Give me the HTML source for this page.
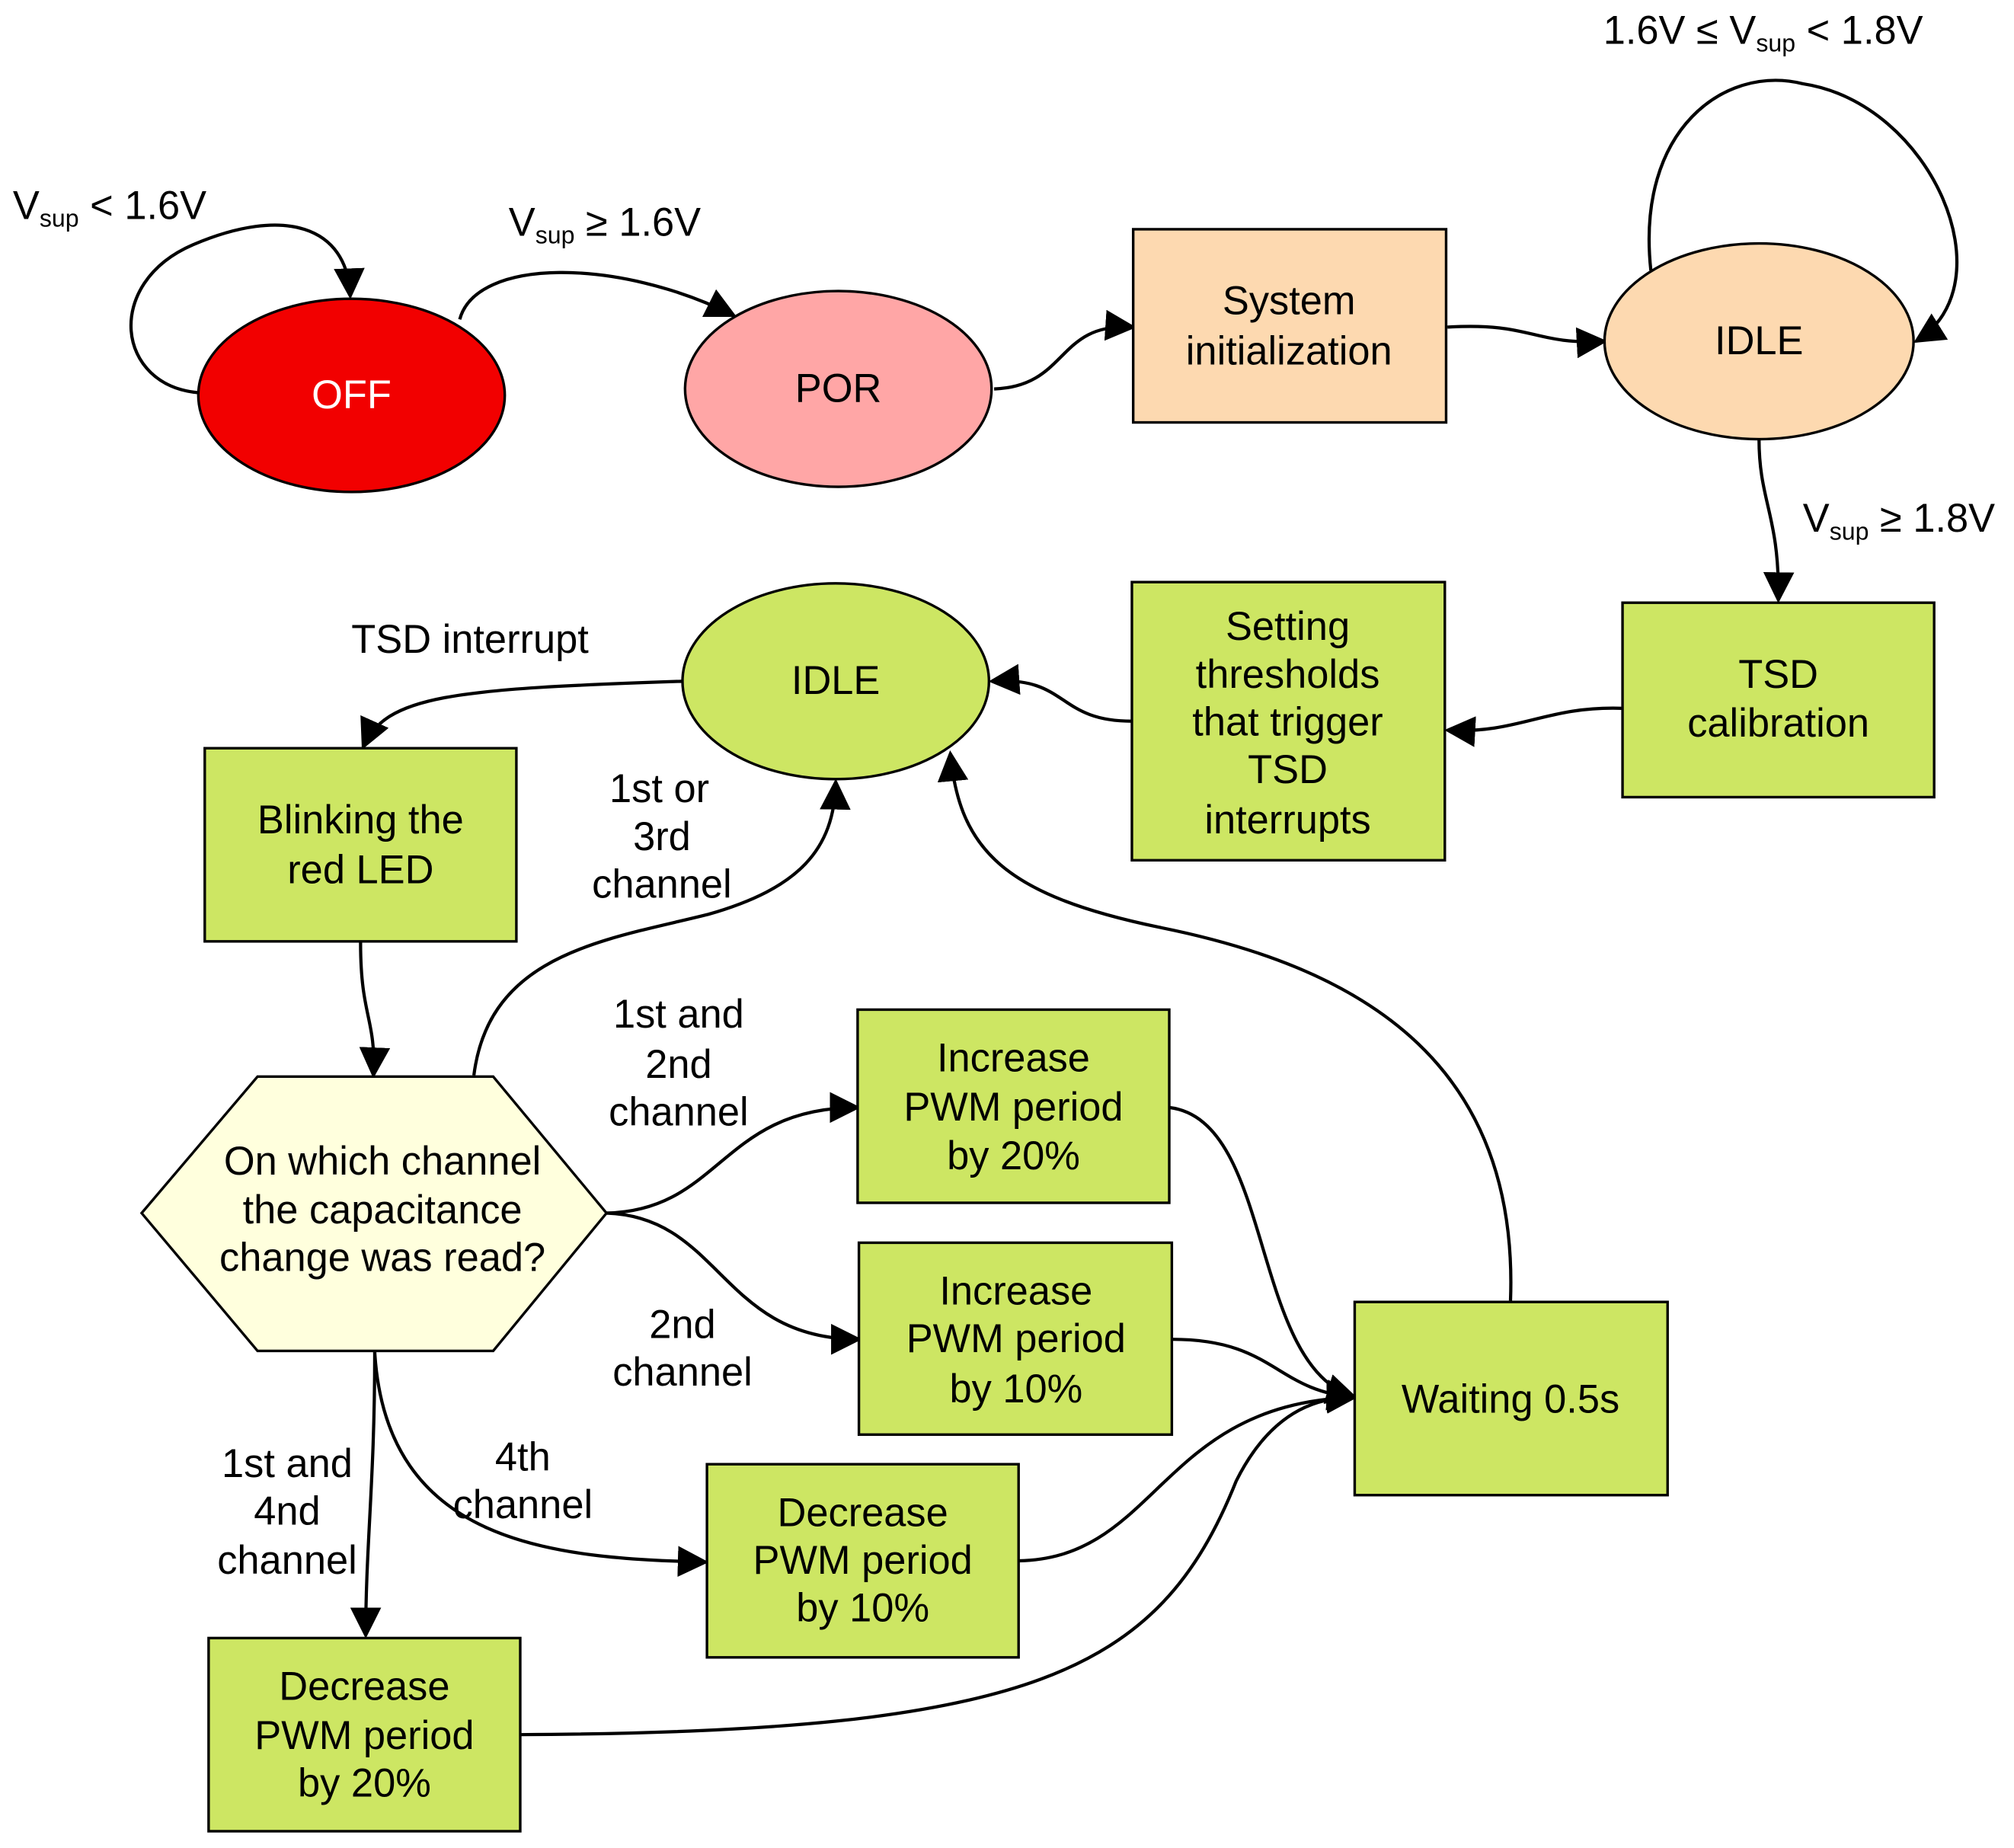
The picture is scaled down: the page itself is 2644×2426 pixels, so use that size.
<!DOCTYPE html>
<html><head><meta charset="utf-8"><style>
html,body{margin:0;padding:0;background:#fff;}
svg{display:block;}
text{font-family:"Liberation Sans",Arial,sans-serif;font-size:31px;fill:#000;}
</style></head><body>
<svg width="2644" height="2426" viewBox="0 0 1564 1435" xmlns="http://www.w3.org/2000/svg">
<defs>
<marker id="a" viewBox="0 0 10 10" refX="9" refY="5" markerWidth="7" markerHeight="7" markerUnits="userSpaceOnUse" orient="auto">
<path d="M0,0 L10,5 L0,10 z" fill="#000"/></marker>
</defs>
<style>.l{fill:none;stroke:#000;stroke-width:2.5;marker-end:url(#a)} .b{stroke:#000;stroke-width:2}
marker path{}
</style>
<defs><marker id="m" viewBox="0 0 10 10" refX="9" refY="5" markerWidth="24" markerHeight="24" markerUnits="userSpaceOnUse" orient="auto"><path d="M0,0 L10,5 L0,10 z" fill="#000"/></marker></defs>
<g fill="none" stroke="#000" stroke-width="2.5" marker-end="url(#m)">
<path d="M155,305 C90,300 80,220 150,190 C220,160 270,175 272,230"/>
<path d="M357,248 C370,200 480,200 570,245"/>
<path d="M772,302 C830,300 820,250 880,254"/>
<path d="M1124,254 C1190,250 1190,268 1246,265"/>
<path d="M1282,210 C1270,100 1340,50 1400,65 C1500,80 1560,220 1488,265"/>
<path d="M1366,341 C1366,390 1382,400 1381,466"/>
<path d="M1260,550 C1200,548 1180,570 1124,567"/>
<path d="M879,560 C820,560 830,525 770,529"/>
<path d="M530,529 C350,535 300,540 282,580"/>
<path d="M280,732 C280,790 292,790 290,835"/>
<path d="M368,835 C380,740 470,730 550,710 C620,690 648,660 649,607"/>
<path d="M1173,1010 C1180,820 1050,750 900,720 C780,695 745,660 738,585"/>
<path d="M471,942 C560,940 560,860 666,860"/>
<path d="M471,942 C560,945 560,1040 667,1040"/>
<path d="M291,1050 C291,1150 284,1200 284,1270"/>
<path d="M291,1050 C300,1200 430,1210 548,1213"/>
<path d="M908,860 C990,870 970,1060 1052,1085"/>
<path d="M910,1040 C990,1040 990,1080 1052,1085"/>
<path d="M791,1212 C900,1210 900,1090 1052,1085"/>
<path d="M404,1347 C800,1345 900,1300 960,1150 C990,1090 1030,1085 1052,1085"/>
</g>
<g stroke="#000" stroke-width="2">
<ellipse cx="273" cy="307" rx="119" ry="75" fill="#f20000"/>
<ellipse cx="651" cy="302" rx="119" ry="76" fill="#ffa6a6"/>
<rect x="880" y="178" width="243" height="150" fill="#fdd9b0"/>
<ellipse cx="1366" cy="265" rx="120" ry="76" fill="#fdd9b0"/>
<rect x="1260" y="468" width="242" height="151" fill="#cde663"/>
<rect x="879" y="452" width="243" height="216" fill="#cde663"/>
<ellipse cx="649" cy="529" rx="119" ry="76" fill="#cde663"/>
<rect x="159" y="581" width="242" height="150" fill="#cde663"/>
<polygon points="110,942 200,836 383,836 471,942 383,1049 200,1049" fill="#ffffdd"/>
<rect x="666" y="784" width="242" height="150" fill="#cde663"/>
<rect x="667" y="965" width="243" height="149" fill="#cde663"/>
<rect x="1052" y="1011" width="243" height="150" fill="#cde663"/>
<rect x="549" y="1137" width="242" height="150" fill="#cde663"/>
<rect x="162" y="1272" width="242" height="150" fill="#cde663"/>
</g>
<g text-anchor="middle">
<text x="273" y="317" style="fill:#fff">OFF</text>
<text x="651" y="312">POR</text>
<text x="1001" y="244">System</text><text x="1001" y="283">initialization</text>
<text x="1366" y="275">IDLE</text>
<text x="1381" y="534">TSD</text><text x="1381" y="572">calibration</text>
<text x="1000" y="497">Setting</text><text x="1000" y="534">thresholds</text><text x="1000" y="571">that trigger</text><text x="1000" y="608">TSD</text><text x="1000" y="647">interrupts</text>
<text x="649" y="539">IDLE</text>
<text x="280" y="647">Blinking the</text><text x="280" y="686">red LED</text>
<text x="297" y="912">On which channel</text><text x="297" y="950">the capacitance</text><text x="297" y="987">change was read?</text>
<text x="787" y="832">Increase</text><text x="787" y="870">PWM period</text><text x="787" y="908">by 20%</text>
<text x="789" y="1013">Increase</text><text x="789" y="1050">PWM period</text><text x="789" y="1089">by 10%</text>
<text x="1173" y="1097">Waiting 0.5s</text>
<text x="670" y="1185">Decrease</text><text x="670" y="1222">PWM period</text><text x="670" y="1259">by 10%</text>
<text x="283" y="1320">Decrease</text><text x="283" y="1358">PWM period</text><text x="283" y="1395">by 20%</text>
<text x="365" y="507">TSD interrupt</text>
<text x="512" y="623">1st or</text><text x="514" y="660">3rd</text><text x="514" y="697">channel</text>
<text x="527" y="798">1st and</text><text x="527" y="837">2nd</text><text x="527" y="874">channel</text>
<text x="530" y="1039">2nd</text><text x="530" y="1076">channel</text>
<text x="223" y="1147">1st and</text><text x="223" y="1184">4nd</text><text x="223" y="1222">channel</text>
<text x="406" y="1142">4th</text><text x="406" y="1179">channel</text>
</g>
<text x="10" y="170">V<tspan style="font-size:19px" dy="6">sup</tspan><tspan dy="-6"> &lt; 1.6V</tspan></text>
<text x="395" y="183">V<tspan style="font-size:19px" dy="6">sup</tspan><tspan dy="-6"> ≥ 1.6V</tspan></text>
<text x="1245" y="34">1.6V ≤ V<tspan style="font-size:19px" dy="6">sup</tspan><tspan dy="-6"> &lt; 1.8V</tspan></text>
<text x="1400" y="413">V<tspan style="font-size:19px" dy="6">sup</tspan><tspan dy="-6"> ≥ 1.8V</tspan></text>
</svg>
</body></html>
